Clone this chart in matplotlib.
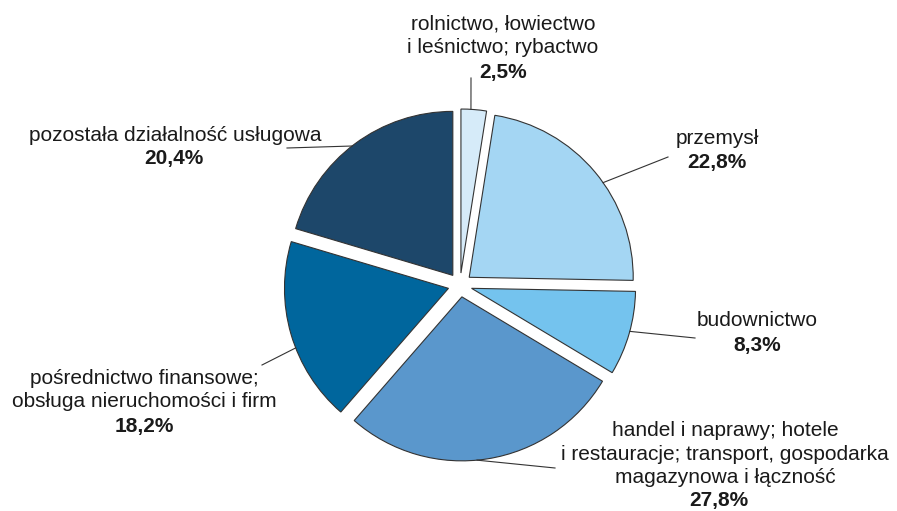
import numpy as np
import matplotlib
matplotlib.use('Agg')
import matplotlib.pyplot as plt

# Data
names = [
    'rolnictwo, łowiectwo\ni leśnictwo; rybactwo',
    'przemysł',
    'budownictwo',
    'handel i naprawy; hotele\ni restauracje; transport, gospodarka\nmagazynowa i łączność',
    'pośrednictwo finansowe;\nobsługa nieruchomości i firm',
    'pozostała działalność usługowa',
]
shares = [2.5, 22.8, 8.3, 27.8, 18.2, 20.4]
colors = ['#d6ebf9', '#a4d6f3', '#74c3ee', '#5a97cc', '#00669d', '#1d476a']

# Layout (pixel coords, y from top)
W, H = 897, 511
CX, CY, R = 460, 285, 164
EXPLODE = 12
name_pos = [(503, 36), (717, 138), (757, 320), (725, 454), (144, 390), (175, 135)]
pct_pos = [(503, 72), (717, 162), (757, 345), (719, 500), (144, 426), (174, 158)]
line_end = [(471, 78), (668, 157), (695, 338), (555, 468), (262, 365), (287, 148)]
leader_shift = [1, -4.7, 0.8, -3.7, 5.1, 1.2]  # degrees from wedge middle

plt.rcParams['font.family'] = ['Liberation Sans', 'DejaVu Sans']
fig = plt.figure(figsize=(W / 100, H / 100), dpi=100)
ax = fig.add_axes([0, 0, 1, 1])

wedges, _ = ax.pie(shares, colors=colors, startangle=90, counterclock=False,
                   explode=[EXPLODE] * len(shares), radius=R, center=(CX, H - CY),
                   wedgeprops=dict(edgecolor='#333333', linewidth=0.8), frame=True)
ax.set_xlim(0, W)
ax.set_ylim(0, H)
ax.set_aspect('equal')
ax.axis('off')

fs = 15
for i, w in enumerate(wedges):
    ang = np.deg2rad((w.theta1 + w.theta2) / 2 + leader_shift[i])
    cx, cy = w.center
    sx, sy = cx + R * np.cos(ang), cy + R * np.sin(ang)
    ex, ey = line_end[i]
    ax.plot([sx, ex], [sy, H - ey], color='#333333', lw=0.8)
    nx, ny = name_pos[i]
    ax.text(nx, H - ny, names[i], ha='center', va='center', fontsize=fs,
            color='#1a1a1a', linespacing=1.3)
    px, py = pct_pos[i]
    ax.text(px, H - py, f'{shares[i]:.1f}%'.replace('.', ','), ha='center', va='center',
            fontsize=fs, fontweight='bold', color='#1a1a1a')

fig.savefig('out.png', dpi=100)
